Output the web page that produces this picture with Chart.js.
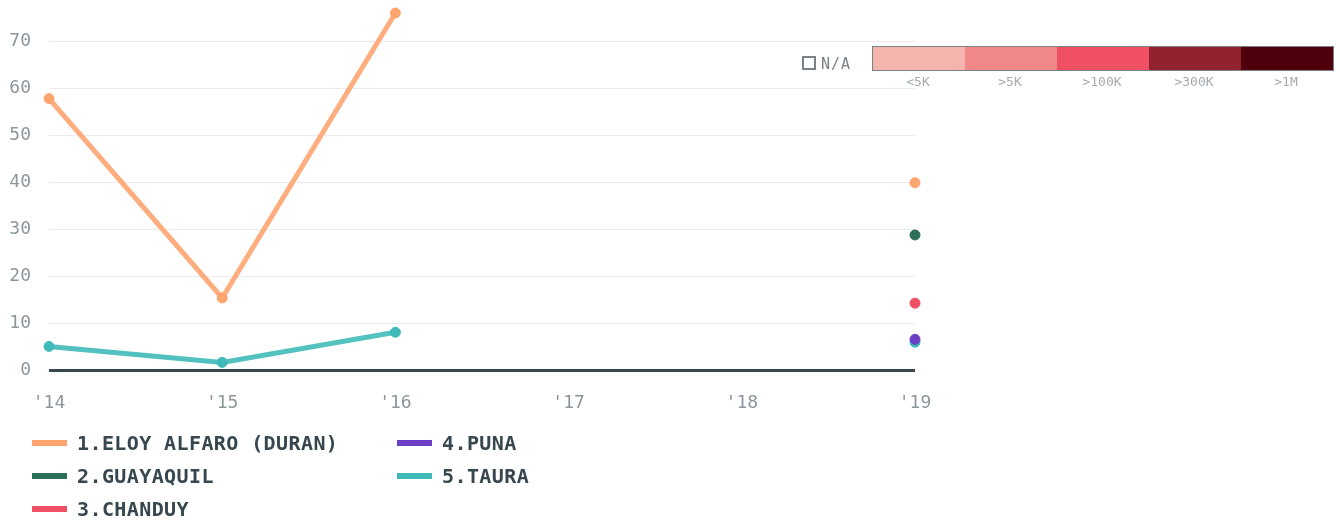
<!DOCTYPE html>
<html>
<head>
<meta charset="utf-8">
<script src="https://cdn.jsdelivr.net/npm/chart.js@4"></script>
<style>
  body { margin: 0; background: #fff; font-family: "DejaVu Sans Mono", monospace; }
  #wrap { position: relative; width: 1340px; height: 521px; }
  #chart { position: absolute; left: 0; top: 0; }
  #scale { position: absolute; left: 872px; top: 46px; display: flex; border: 1px solid #7a8287; }
  #scale div { width: 92px; height: 23px; }
  #scaleLabels { position: absolute; left: 872px; top: 74px; display: flex; }
  #scaleLabels span { width: 92px; text-align: center; font-size: 13px; color: #a4abb0; }
  #na { position: absolute; left: 802px; top: 55px; font-size: 15px; color: #7a8287; letter-spacing: 1px; }
  #na i { display: inline-block; width: 10px; height: 10px; border: 2px solid #7a8287; vertical-align: -1px; margin-right: 5px; }
  #legend { position: absolute; left: 32px; top: 426px; width: 760px; height: 100px;
            display: grid; grid-template-rows: 33px 33px 33px; grid-auto-flow: column; grid-template-columns: 365px 300px; }
  .item { display: flex; align-items: center; font-weight: bold; font-size: 20px; letter-spacing: 0.4px; color: #37474f; }
  .item b { display: inline-block; width: 35px; height: 6px; margin-right: 10px; }
</style>
</head>
<body>
<div id="wrap">
  <canvas id="chart" width="1340" height="428"></canvas>
  <div id="na"><i></i>N/A</div>
  <div id="scale"></div>
  <div id="scaleLabels"></div>
  <div id="legend"></div>
</div>
<script>
// datos
const years = ["'14", "'15", "'16", "'17", "'18", "'19"];
const seriesNames = ['1.ELOY ALFARO (DURAN)', '2.GUAYAQUIL', '3.CHANDUY', '4.PUNA', '5.TAURA'];
const seriesColors = ['#fea470', '#2b6f56', '#ef5064', '#6b3fc6', '#3fbab8'];
const eloyAlfaro = [57.8, 15.4, 76.0, null, null, 39.9];
const guayaquil = [null, null, null, null, null, 28.8];
const chanduy = [null, null, null, null, null, 14.3];
const puna = [null, null, null, null, null, 6.6];
const taura = [5.1, 1.7, 8.1, null, null, 6.0];
const scaleLabels = ['<5K', '>5K', '>100K', '>300K', '>1M'];
const scaleColors = ['#f4b5ae', '#f08888', '#ef5064', '#932230', '#50000d'];

const seriesValues = [eloyAlfaro, guayaquil, chanduy, puna, taura];

const ctx = document.getElementById('chart').getContext('2d');
const tickFont = { family: 'DejaVu Sans Mono', size: 18 };

new Chart(ctx, {
    type: 'line',
    data: {
        labels: years,
        datasets: seriesNames.map((name, i) => ({
            label: name,
            data: seriesValues[i],
            borderColor: seriesColors[i] + 'e6',
            backgroundColor: seriesColors[i],
            pointBackgroundColor: seriesColors[i],
            pointBorderColor: seriesColors[i],
            borderWidth: 5,
            pointRadius: 5,
            pointBorderWidth: 1,
            spanGaps: false,
            fill: false,
            clip: false
        }))
    },
    options: {
        responsive: false,
        animation: false,
        layout: { autoPadding: false, padding: { top: 13, right: 425, left: 0, bottom: 0 } },
        plugins: { legend: { display: false }, tooltip: { enabled: false } },
        scales: {
            x: {
                offset: false,
                grid: { display: false },
                border: { display: false },
                ticks: { font: tickFont, color: '#8c969c', padding: 14, maxRotation: 0 }
            },
            y: {
                min: 0,
                max: 76,
                afterFit: scale => { scale.width = 49; scale.paddingTop = 0; },
                afterBuildTicks: scale => { scale.ticks = scale.ticks.filter(t => t.value % 10 === 0); },
                border: { display: false },
                grid: {
                    drawTicks: false,
                    color: c => c.tick && c.tick.value === 0 ? '#37474f' : '#ebebeb',
                    lineWidth: c => c.tick && c.tick.value === 0 ? 3 : 1
                },
                ticks: { stepSize: 10, font: tickFont, color: '#8c969c', padding: 18 }
            }
        }
    }
});

// escala de colores
const scale = document.getElementById('scale');
const scaleLab = document.getElementById('scaleLabels');
scaleColors.forEach((c, i) => {
    const d = document.createElement('div');
    d.style.background = c;
    scale.appendChild(d);
    const s = document.createElement('span');
    s.textContent = scaleLabels[i];
    scaleLab.appendChild(s);
});

// leyenda
const legend = document.getElementById('legend');
seriesNames.forEach((name, i) => {
    const it = document.createElement('div');
    it.className = 'item';
    it.innerHTML = '<b style="background:' + seriesColors[i] + '"></b>' + name;
    legend.appendChild(it);
});
</script>
</body>
</html>
